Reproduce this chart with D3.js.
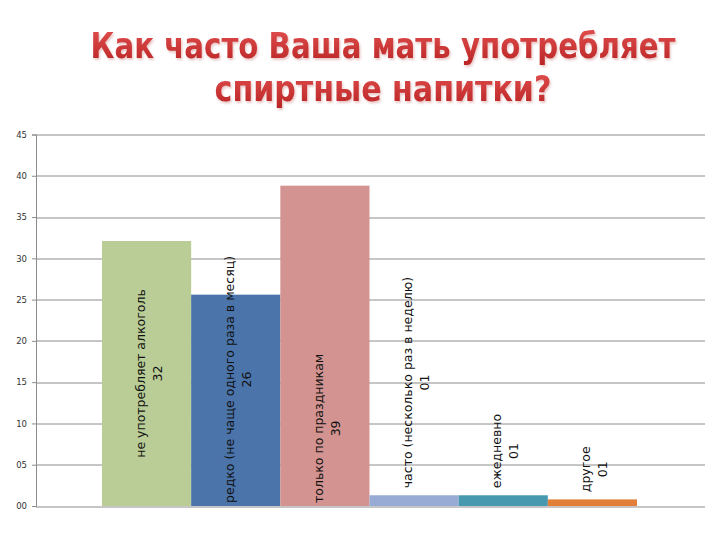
<!DOCTYPE html>
<html>
<head>
<meta charset="utf-8">
<script src="https://cdn.jsdelivr.net/npm/d3@7"></script>
<style>
  body { margin: 0; background: #fff; }
  svg { display: block; }
</style>
</head>
<body>
<svg width="720" height="540"></svg>
<script>
// chart data
const titleLines = ["Как часто Ваша мать употребляет", "спиртные напитки?"];
const categories = [
  "не употребляет алкоголь",
  "редко (не чаще одного раза в месяц)",
  "только по праздникам",
  "часто (несколько раз в неделю)",
  "ежедневно",
  "другое"
];
const values = [32.1, 25.6, 38.8, 1.3, 1.3, 0.8];
const colors = ["#bacd96", "#4a74aa", "#d39390", "#97abd4", "#4799b0", "#e2803a"];
const yTicks = [0, 5, 10, 15, 20, 25, 30, 35, 40, 45];

const svg = d3.select("svg");
const fmt = d3.format("02.0f");

// title with a red gradient and soft shadow
const defs = svg.append("defs");
const grad = defs.append("linearGradient")
  .attr("id", "titleGrad")
  .attr("x1", 0).attr("y1", 0).attr("x2", 0).attr("y2", 1);
grad.append("stop").attr("offset", "0%").attr("stop-color", "#e45252");
grad.append("stop").attr("offset", "100%").attr("stop-color", "#b82222");

const shadow = defs.append("filter")
  .attr("id", "shadow")
  .attr("x", "-5%").attr("y", "-20%")
  .attr("width", "110%").attr("height", "150%");
shadow.append("feDropShadow")
  .attr("dx", 1.5).attr("dy", 2)
  .attr("stdDeviation", 1)
  .attr("flood-color", "#c06060")
  .attr("flood-opacity", 0.35);

// squeeze each title line to the width it has in the picture
const titleWidths = [585, 337];
titleLines.forEach((t, i) => {
  const g = svg.append("g");
  const txt = g.append("text")
    .attr("x", 0)
    .attr("y", 0)
    .attr("text-anchor", "middle")
    .attr("font-family", "DejaVu Sans, sans-serif")
    .attr("font-weight", "bold")
    .attr("font-size", 36)
    .attr("fill", "url(#titleGrad)")
    .attr("filter", "url(#shadow)")
    .text(t);
  const k = titleWidths[i] / txt.node().getComputedTextLength();
  g.attr("transform", `translate(383, ${58 + i * 43}) scale(${k}, 1)`);
});

// plot area
const margin = { top: 134.5, left: 36, right: 15, bottom: 34 };
const width = 720 - margin.left - margin.right;
const height = 540 - margin.top - margin.bottom;

const chart = svg.append("g")
  .attr("transform", `translate(${margin.left}, ${margin.top})`);

const y = d3.scaleLinear()
  .domain([0, 45])
  .range([height, 0]);

// one group, bars side by side
const x = d3.scaleBand()
  .domain(categories)
  .range([66, width - 68])
  .padding(0);

// gridlines
chart.append("g")
  .selectAll("line")
  .data(yTicks)
  .enter()
  .append("line")
  .attr("x1", 0)
  .attr("x2", width)
  .attr("y1", d => Math.round(y(d)) + 0.5)
  .attr("y2", d => Math.round(y(d)) + 0.5)
  .attr("stroke", "#8c8c8c")
  .attr("stroke-width", 1);

// y axis
const yAxis = d3.axisLeft(y)
  .tickValues(yTicks)
  .tickSize(4)
  .tickPadding(5)
  .tickFormat(fmt);

const yg = chart.append("g")
  .call(yAxis);
yg.select(".domain").attr("stroke", "#8c8c8c");
yg.selectAll(".tick line").attr("stroke", "#8c8c8c");
yg.selectAll(".tick text")
  .attr("font-family", "DejaVu Sans, sans-serif")
  .attr("font-size", 8.5)
  .attr("fill", "#333");

// bars
chart.selectAll(".bar")
  .data(values)
  .enter()
  .append("rect")
  .attr("class", "bar")
  .attr("x", (d, i) => x(categories[i]))
  .attr("y", d => y(d))
  .attr("width", x.bandwidth())
  .attr("height", d => height - y(d))
  .attr("fill", (d, i) => colors[i]);

// rotated data labels: name + value
const labels = chart.selectAll(".lbl")
  .data(values)
  .enter()
  .append("text")
  .attr("class", "lbl")
  .attr("font-family", "DejaVu Sans, sans-serif")
  .attr("font-size", 12.5)
  .attr("fill", "#111")
  .attr("text-anchor", "middle");

labels.append("tspan")
  .attr("x", 0)
  .attr("dy", 0)
  .text((d, i) => categories[i]);
labels.append("tspan")
  .attr("x", 0)
  .attr("dy", 17)
  .text(d => fmt(d));

labels.each(function (d, i) {
  const el = d3.select(this);
  const len = this.getBBox().width;
  const cx = x(categories[i]) + x.bandwidth() / 2 - 2;
  let bottom;
  if (height - y(d) < len) {
    // short bar: label sits above it
    bottom = d > 5 ? height - 3 : y(d) - 7;
  } else if (i == 0) {
    bottom = (y(d) + height) / 2 + len / 2;
  } else {
    bottom = height - 3;
  }
  el.attr("transform", `translate(${cx}, ${bottom - len / 2}) rotate(-90)`);
});
</script>
</body>
</html>
